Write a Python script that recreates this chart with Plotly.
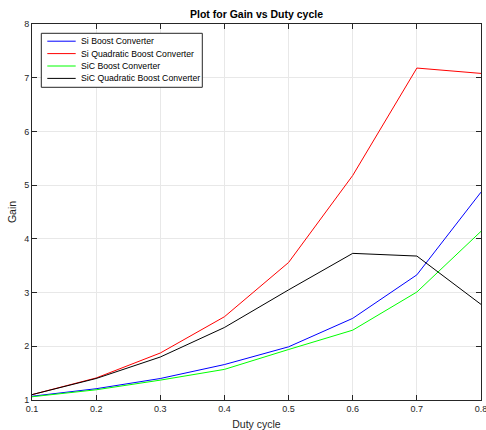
import plotly.graph_objects as go

duty = [0.1, 0.2, 0.3, 0.4, 0.5, 0.6, 0.7, 0.8]
si_boost = [1.07, 1.21, 1.40, 1.66, 1.99, 2.52, 3.33, 4.87]
si_quad = [1.10, 1.41, 1.875, 2.55, 3.56, 5.18, 7.18, 7.08]
sic_boost = [1.06, 1.19, 1.37, 1.57, 1.94, 2.30, 3.01, 4.14]
sic_quad = [1.10, 1.40, 1.80, 2.35, 3.05, 3.73, 3.68, 2.78]

names = ["Si Boost Converter", "Si Quadratic Boost Converter",
         "SiC Boost Converter", "SiC Quadratic Boost Converter"]
colors = ["#0000ff", "#ff0000", "#00ff00", "#000000"]
series = [si_boost, si_quad, sic_boost, sic_quad]

W, H = 486, 430
L, R, T, B = 32, 481, 24, 400  # plot area in pixels


def px(xp):
    return (xp - L) / (R - L)


def py(yp):
    return (B - yp) / (B - T)


fig = go.Figure()
for n, c, s in zip(names, colors, series):
    fig.add_trace(go.Scatter(x=duty, y=s, mode="lines", name=n,
                             line=dict(color=c, width=1), showlegend=False))

font = "Liberation Sans, Arial, Helvetica, sans-serif"
axis_common = dict(
    showline=True, linecolor="#262626", linewidth=1, mirror="ticks",
    ticks="inside", ticklen=5, tickcolor="#262626", tickwidth=1,
    showgrid=True, gridcolor="#e8e8e8", gridwidth=1, zeroline=False,
    tickfont=dict(family=font, size=9, color="#262626"), automargin=False,
    ticklabeloverflow="allow",
)

# Manual MATLAB-style legend box
shapes = [dict(type="rect", xref="paper", yref="paper",
               x0=px(41.3), x1=px(202.3), y0=py(87.3), y1=py(33.3),
               fillcolor="white", line=dict(color="#262626", width=1),
               layer="above")]
annotations = []
rows = [41.2, 53.6, 66.0, 78.4]
for n, c, yr in zip(names, colors, rows):
    shapes.append(dict(type="line", xref="paper", yref="paper",
                       x0=px(47.3), x1=px(75.7), y0=py(yr), y1=py(yr),
                       line=dict(color=c, width=1), layer="above"))
    annotations.append(dict(text=n, xref="paper", yref="paper",
                            x=px(79.3), y=py(yr), xanchor="left", yanchor="middle",
                            showarrow=False,
                            font=dict(family=font, size=8.7, color="#000000")))

fig.update_layout(
    width=W, height=H,
    paper_bgcolor="white", plot_bgcolor="white",
    margin=dict(l=L, r=W - R, t=T, b=H - B, pad=0),
    title=dict(text="<b>Plot for Gain vs Duty cycle</b>", xref="paper", x=0.5,
               xanchor="center", yref="container", y=1 - 14.5 / H, yanchor="middle",
               font=dict(family=font, size=10.5, color="#000000")),
    xaxis=dict(range=[0.1, 0.8], tickvals=duty,
               ticktext=["0.1", "0.2", "0.3", "0.4", "0.5", "0.6", "0.7", "0.8"],
               title=dict(text="Duty cycle", standoff=8,
                          font=dict(family=font, size=10.5, color="#262626")),
               **axis_common),
    yaxis=dict(range=[1, 8], tickvals=[1, 2, 3, 4, 5, 6, 7, 8],
               title=dict(text="Gain", standoff=5,
                          font=dict(family=font, size=10.5, color="#262626")),
               **axis_common),
    shapes=shapes,
    annotations=annotations,
    showlegend=False,
)

fig.write_html("out.html", config={"displayModeBar": False},
               post_script="document.body.style.margin='0';")
